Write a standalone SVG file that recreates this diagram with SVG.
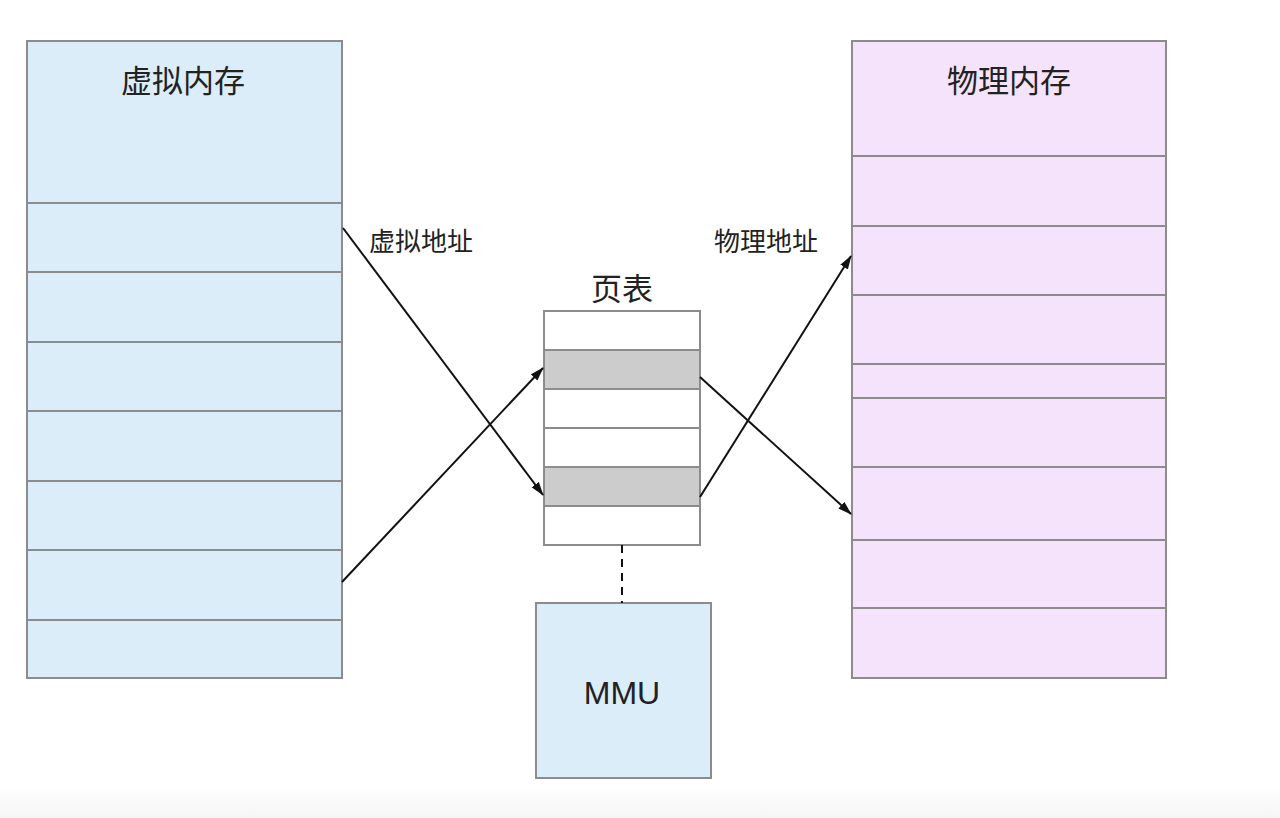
<svg xmlns="http://www.w3.org/2000/svg" width="1280" height="818" viewBox="0 0 1280 818">
<defs>
<style>
.box{stroke:#8c8c8c;stroke-width:2}
.div{stroke:#8c8c8c;stroke-width:2;fill:none}
.blue{fill:#dcedfa}
.pink{fill:#f5e3fb}
.t{font-family:"Noto Sans CJK SC","Noto Sans",sans-serif;fill:#222}
.conn{stroke:#111;stroke-width:2;fill:none}
</style>
<marker id="ah" viewBox="0 0 14 10" refX="13" refY="5" markerWidth="14" markerHeight="10" orient="auto" markerUnits="userSpaceOnUse">
<path d="M0,0.5 L14,5 L0,9.5 Z" fill="#111"/>
</marker>
<linearGradient id="bg" x1="0" y1="0" x2="0" y2="1">
<stop offset="0" stop-color="#ffffff"/>
<stop offset="1" stop-color="#f6f6f6"/>
</linearGradient>
</defs>
<rect x="0" y="0" width="1280" height="818" fill="#ffffff"/>
<rect x="0" y="785" width="1280" height="33" fill="url(#bg)"/>

<g id="virtual-memory">
<rect class="box blue" x="27" y="41" width="315" height="637"/>
<path class="div" d="M27,203H342M27,272H342M27,342H342M27,411H342M27,481H342M27,550H342M27,620H342"/>
<text class="t" x="183" y="92" font-size="31" text-anchor="middle">虚拟内存</text>
</g>

<g id="physical-memory">
<rect class="box pink" x="852" y="41" width="314" height="637"/>
<path class="div" d="M852,156H1166M852,226H1166M852,295H1166M852,364H1166M852,398H1166M852,467H1166M852,540H1166M852,608H1166"/>
<text class="t" x="1009" y="92" font-size="31" text-anchor="middle">物理内存</text>
</g>

<g id="page-table">
<rect class="box" x="544" y="311" width="156" height="234" fill="#ffffff"/>
<rect x="544" y="350" width="156" height="39" fill="#cccccc"/>
<rect x="544" y="467" width="156" height="39" fill="#cccccc"/>
<path class="div" d="M544,350H700M544,389H700M544,428H700M544,467H700M544,506H700"/>
<rect x="544" y="311" width="156" height="234" fill="none" class="div"/>
<text class="t" x="622" y="300" font-size="31" text-anchor="middle">页表</text>
</g>

<g id="mmu">
<rect class="box blue" x="536" y="603" width="175" height="175"/>
<text x="622" y="704" font-size="32" text-anchor="middle" font-family="'Liberation Sans',Arial,sans-serif" fill="#222">MMU</text>
</g>

<g id="connectors">
<line class="conn" x1="343" y1="228" x2="543" y2="495" marker-end="url(#ah)"/>
<line class="conn" x1="342" y1="582" x2="543" y2="368" marker-end="url(#ah)"/>
<line class="conn" x1="700" y1="377" x2="851" y2="514" marker-end="url(#ah)"/>
<line class="conn" x1="700" y1="497" x2="851" y2="256" marker-end="url(#ah)"/>
<line x1="622" y1="545" x2="622" y2="603" stroke="#111" stroke-width="2" stroke-dasharray="8,6"/>
</g>

<g id="labels">
<text class="t" x="369" y="251" font-size="26">虚拟地址</text>
<text class="t" x="714" y="251" font-size="26">物理地址</text>
</g>
</svg>
